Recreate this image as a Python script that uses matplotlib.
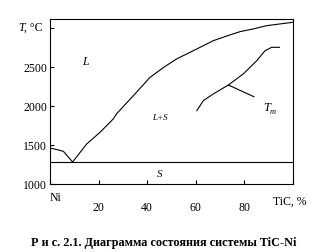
import matplotlib
matplotlib.use("Agg")
import matplotlib.pyplot as plt

# Liquidus (composition % TiC, temperature °C)
liq_x = [0, 3, 5.5, 9.3, 15.1, 20.6, 26, 27.4, 34.3, 41.2, 47, 52.1, 60.4, 67.2, 73, 78.2, 84, 89.2, 100]
liq_t = [1461, 1440, 1419, 1282, 1513, 1663, 1833, 1900, 2132, 2368, 2500, 2603, 2731, 2837, 2900, 2953, 2990, 3030, 3073]
# Solidus (eutectic line)
sol_x = [0, 100]
sol_t = [1282, 1282]
# T_t curve
tt_x = [60.4, 63.1, 67.2, 73.4, 79.5, 85.1, 88.5, 91.2, 94.4]
tt_t = [1940, 2068, 2154, 2269, 2410, 2581, 2709, 2752, 2752]
# leader line
lead_x = [73.4, 83.9]
lead_t = [2269, 2119]

xticks = [0, 20, 40, 60, 80, 100]
xticklabels = ["", "20", "40", "60", "80", ""]
yticks = [1000, 1500, 2000, 2500, 3000]
yticklabels = ["1000", "1500", "2000", "2500", ""]

plt.rcParams['font.family'] = ['Liberation Serif', 'DejaVu Serif']
fig = plt.figure(figsize=(3.28, 2.53), dpi=100)
ax = fig.add_axes([50/328, 1-185/253, 243/328, 165/253])
ax.plot(liq_x, liq_t, color='black', lw=0.8)
ax.plot(sol_x, sol_t, color='black', lw=0.8)
ax.plot(tt_x, tt_t, color='black', lw=0.8)
ax.plot(lead_x, lead_t, color='black', lw=0.8)
ax.set_xlim(0, 100)
ax.set_ylim(1000, 3115)
ax.set_xticks(xticks)
ax.set_xticklabels(xticklabels, fontsize=8.5)
ax.set_yticks(yticks)
ax.set_yticklabels(yticklabels, fontsize=8.5)
ax.tick_params(direction='in', length=3, width=0.8, pad=2)
ax.tick_params(axis='x', pad=12)
for s in ax.spines.values():
    s.set_linewidth(0.8)

fig.text(18/328, 1-28/253, "T", style='italic', ha='left', va='center', fontsize=8.5)
fig.text(24/328, 1-28/253, ", °C", ha='left', va='center', fontsize=8.5)
fig.text(50/328, 1-198/253, "Ni", ha='left', va='center', fontsize=8.5)
fig.text(290/328, 1-202/253, "TiC, %", ha='center', va='center', fontsize=8.5)

ax.text(14.4, 2581, "L", style='italic', ha='center', va='center', fontsize=8.5)
ax.text(45.3, 1859, "L+S", style='italic', ha='center', va='center', fontsize=6.5)
ax.text(45, 1137, "S", style='italic', ha='center', va='center', fontsize=8)
ax.text(89.2, 1983, "T", style='italic', ha='center', va='center', fontsize=9)
ax.text(91.6, 1935, "т", style='italic', ha='center', va='center', fontsize=6)

fig.text(164/328, 1-243/253, "Р и с. 2.1. Диаграмма состояния системы TiC-Ni",
         ha='center', va='center', fontsize=8.8, fontweight='bold')
fig.savefig("out.png", dpi=100)
